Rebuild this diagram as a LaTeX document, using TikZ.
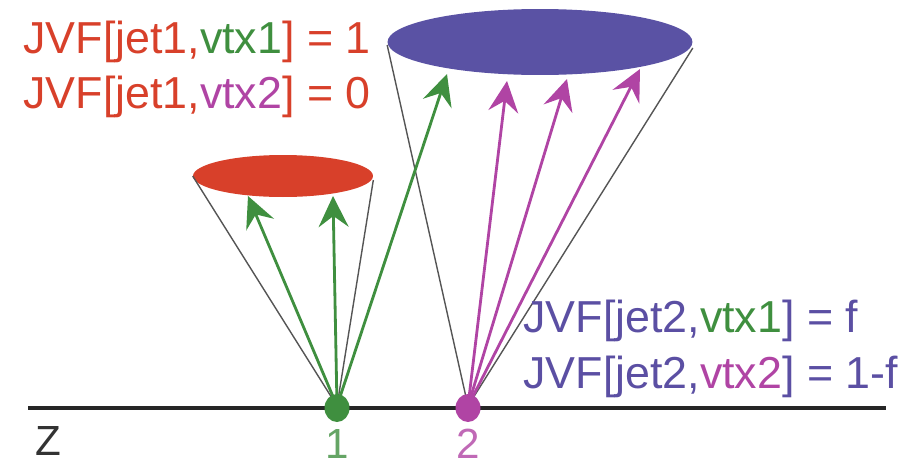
\documentclass[tikz,border=0pt]{standalone}
\usepackage{fontspec}
\setmainfont{Liberation Sans}
\usetikzlibrary{arrows.meta,shapes.geometric}
\definecolor{jred}{HTML}{D8402A}
\definecolor{jgreen}{HTML}{3F8F3F}
\definecolor{jmag}{HTML}{B044A4}
\definecolor{jblue}{HTML}{5A52A4}
\definecolor{jtext}{HTML}{5B4FA3}
\definecolor{jgray}{HTML}{555555}
\begin{document}
\begin{tikzpicture}[x=0.02cm,y=-0.02cm,
  disc/.style={ellipse,inner sep=0pt,draw=none},
  conel/.style={draw=jgray,line width=0.8pt},
  arr/.style={line width=1.6pt,-{Stealth[length=0.62cm,width=0.6cm,inset=0.22cm]}},
  vdot/.style={ellipse,inner sep=0pt,minimum width=0.5cm,minimum height=0.56cm},
  lbl/.style={anchor=base west,inner sep=0pt,font=\fontsize{25.5}{30}\selectfont},
  num/.style={anchor=base,inner sep=0pt,font=\fontsize{24}{28}\selectfont}]
\useasboundingbox (0,0) rectangle (914,467);
% discs
\node[disc,fill=jred,minimum width=3.6cm,minimum height=0.84cm] (red) at (283,176) {};
\node[disc,fill=jblue,minimum width=6.1cm,minimum height=1.32cm] (blue) at (540,42) {};
% axis
\coordinate (ax1) at (28,408);
\coordinate (ax2) at (886,408);
\draw[line width=0.09cm,color=black!85] (ax1) -- (ax2);
% vertices positions
\coordinate (p1) at (337,406);
\coordinate (p2) at (468,406);
% cone lines
\draw[conel] (p1) -- (red.west);
\draw[conel] (p1) -- ([yshift=-4*0.02cm]red.east);
\draw[conel] (p2) -- ([yshift=-3*0.02cm]blue.west);
\draw[conel] (p2) -- ([yshift=-6*0.02cm]blue.east);
% arrow tips
\coordinate (g1) at (248,196);
\coordinate (g2) at (333,196);
\coordinate (g3) at (447,74);
\coordinate (m1) at (507,81);
\coordinate (m2) at (567,79);
\coordinate (m3) at (640,69);
\draw[arr,jgreen] (p1) -- (g1);
\draw[arr,jgreen] (p1) -- (g2);
\draw[arr,jgreen] (p1) -- (g3);
\draw[arr,jmag] (p2) -- (m1);
\draw[arr,jmag] (p2) -- (m2);
\draw[arr,jmag] (p2) -- (m3);
% vertex dots
\node[vdot,fill=jgreen] (v1) at (337,408) {};
\node[vdot,fill=jmag] (v2) at (468,408) {};
% labels
\node[lbl,text=jred] (t1) at (23,53) {JVF[jet1,\textcolor{jgreen}{vtx1}] = 1};
\node[lbl,text=jred] (t2) at (23,108) {JVF[jet1,\textcolor{jmag}{vtx2}] = 0};
\node[lbl,text=jtext] (t3) at (523,332) {JVF[jet2,\textcolor{jgreen}{vtx1}] = f};
\node[lbl,text=jtext] (t4) at (523,388) {JVF[jet2,\textcolor{jmag}{vtx2}] = 1-f};
\node[num,text=black!80] (z) at (48,455) {Z};
\node[num,text=jgreen!80] (n1) at (337,458) {1};
\node[num,text=jmag!80] (n2) at (468,458) {2};
\end{tikzpicture}
\end{document}
